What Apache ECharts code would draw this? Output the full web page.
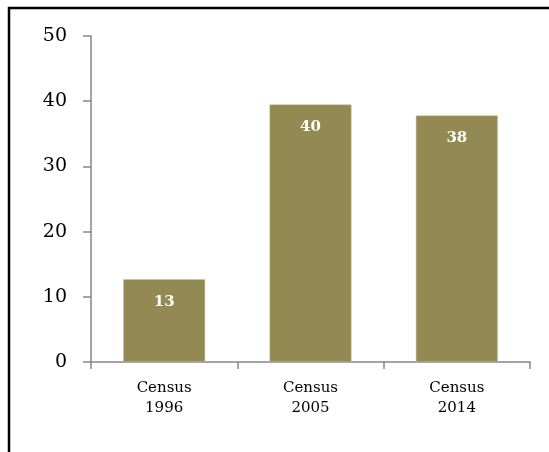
<!DOCTYPE html>
<html>
<head>
<meta charset="utf-8">
<script src="https://cdn.jsdelivr.net/npm/echarts@6/dist/echarts.min.js"></script>
<style>
html,body{margin:0;padding:0;background:#fff;}
#chart{width:549px;height:452px;}
</style>
</head>
<body>
<div id="chart"></div>
<script>
const categories = ['Census\n1996', 'Census\n2005', 'Census\n2014'];
const values = [12.7, 39.5, 37.8];
const valueLabels = ['13', '40', '38'];
const yTicks = [0, 10, 20, 30, 40, 50];

const chart = echarts.init(document.getElementById('chart'), null, {renderer: 'canvas'});
const serif = '"DejaVu Serif", "Liberation Serif", serif';
chart.setOption({
  animation: false,
  graphic: [{
    type: 'rect',
    shape: {x: 9, y: 8, width: 600, height: 500},
    style: {fill: 'none', stroke: '#000', lineWidth: 2.5},
    silent: true
  }],
  grid: {left: 91, right: 19, top: 36, bottom: 90},
  xAxis: {
    type: 'category',
    data: categories,
    axisLine: {lineStyle: {color: '#868686', width: 1.5}},
    axisTick: {show: true, length: 7, lineStyle: {color: '#868686', width: 1.5}},
    axisLabel: {color: '#000', fontFamily: serif, fontSize: 15, lineHeight: 20, margin: 16}
  },
  yAxis: {
    type: 'value',
    min: yTicks[0],
    max: yTicks[yTicks.length - 1],
    interval: 10,
    splitLine: {show: false},
    axisLine: {show: true, lineStyle: {color: '#868686', width: 1.5}},
    axisTick: {show: true, length: 8, lineStyle: {color: '#868686', width: 1.5}},
    axisLabel: {color: '#000', fontFamily: serif, fontSize: 19, margin: 24}
  },
  series: [{
    type: 'bar',
    data: values,
    barWidth: '56%',
    itemStyle: {color: '#938953', borderColor: '#c9c3a3', borderWidth: 0.5},
    label: {
      show: true,
      position: 'insideTop',
      distance: 15,
      color: '#fff',
      fontFamily: serif,
      fontWeight: 'bold',
      fontSize: 15,
      formatter: p => valueLabels[p.dataIndex]
    }
  }]
});
</script>
</body>
</html>
